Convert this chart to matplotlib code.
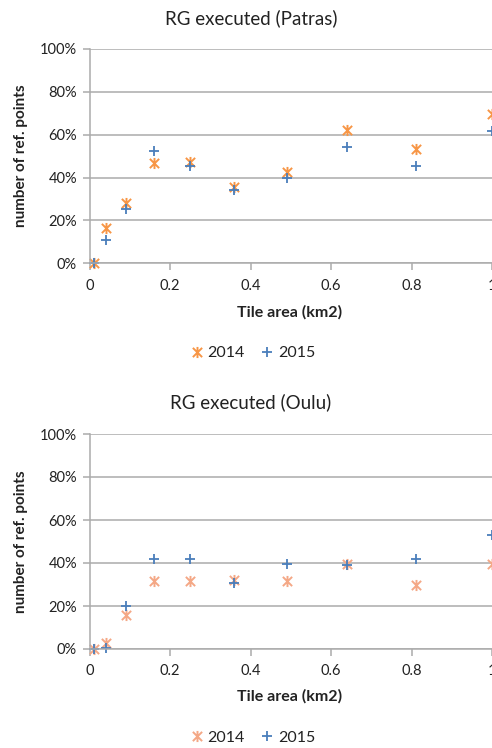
import matplotlib.pyplot as plt
import numpy as np
from matplotlib.path import Path
from matplotlib.ticker import PercentFormatter

plt.rcParams['font.family'] = ['Lato', 'DejaVu Sans']

# tile areas (km2)
area = [0.01, 0.04, 0.09, 0.16, 0.25, 0.36, 0.49, 0.64, 0.81, 1.0]

patras_2014 = [0, 16.3, 28, 46.7, 47.1, 35.6, 42.8, 62, 53.2, 69.7]
patras_2015 = [0, 10.9, 25.5, 52.4, 45.4, 34.4, 40, 54.4, 45.4, 61.9]

oulu_2014 = [0, 2.6, 16, 31.8, 31.8, 32.2, 31.8, 39.5, 29.9, 39.4]
oulu_2015 = [0, 0.3, 19.8, 41.7, 41.7, 30.7, 39.4, 39.2, 41.7, 53]

titles = ['RG executed (Patras)', 'RG executed (Oulu)']
years = ['2014', '2015']

# excel-like star marker: an x with a vertical bar
star = Path([(-1, -1), (1, 1), (-1, 1), (1, -1), (0, -1.2), (0, 1.2)],
            [Path.MOVETO, Path.LINETO, Path.MOVETO, Path.LINETO, Path.MOVETO, Path.LINETO])

blue = '#4A7EBB'
orange_top = '#F79646'
orange_bot = '#F4A886'
grid_c = '#ABABAB'

W, H = 492, 748
fig = plt.figure(figsize=(W / 100, H / 100), dpi=100)

def fy(px):
    return 1 - px / H

panels = [
    dict(top=49, bot=263.3, title_y=18, xlab_y=312, leg_y=353,
         s14=patras_2014, s15=patras_2015, c14=orange_top),
    dict(top=434, bot=649, title_y=402, xlab_y=696, leg_y=738,
         s14=oulu_2014, s15=oulu_2015, c14=orange_bot),
]

for p, title in zip(panels, titles):
    left = 89.5 / W
    ax = fig.add_axes([left, fy(p['bot']), 1 - left, fy(p['top']) - fy(p['bot'])])
    h14, = ax.plot(area, p['s14'], linestyle='none', marker=star, markersize=8,
                   markeredgewidth=1.4, color=p['c14'], label=years[0], clip_on=False)
    h15, = ax.plot(area, p['s15'], linestyle='none', marker='+', markersize=7.5,
                   markeredgewidth=1.3, color=blue, label=years[1], clip_on=False)
    ax.set_xlim(0, 1)
    ax.set_ylim(0, 100)
    ax.set_xticks(np.arange(0, 1.01, 0.2))
    ax.set_xticklabels(['0', '0.2', '0.4', '0.6', '0.8', '1'])
    ax.set_yticks(range(0, 101, 20))
    ax.yaxis.set_major_formatter(PercentFormatter(decimals=0))
    ax.grid(axis='y', color=grid_c, linewidth=1.1)
    ax.set_axisbelow(True)
    for side in ['top', 'right']:
        ax.spines[side].set_visible(False)
    for side in ['left', 'bottom']:
        ax.spines[side].set_color(grid_c)
        ax.spines[side].set_linewidth(1.1)
    ax.tick_params(axis='both', colors=grid_c, length=5, width=1.1, labelsize=10.5,
                   labelcolor='#222222')
    ax.tick_params(axis='x', pad=6)
    ax.tick_params(axis='y', pad=4)

    fig.text(251 / W, fy(p['title_y']), title, ha='center', va='center',
             fontsize=13.5, color='#222222')
    fig.text(290 / W, fy(p['xlab_y']), 'Tile area (km2)', ha='center', va='center',
             fontsize=11.5, fontweight='bold', color='#222222')
    fig.text(21 / W, fy((p['top'] + p['bot']) / 2), 'number of ref. points',
             ha='center', va='center', rotation=90, fontsize=11,
             fontweight='bold', color='#222222')
    fig.legend(handles=[h14, h15], loc='center', bbox_to_anchor=(253 / W, fy(p['leg_y'])),
               ncol=2, frameon=False, fontsize=11.5, handlelength=0.8, handletextpad=0.3,
               columnspacing=1.0, labelcolor='#222222')

fig.savefig('out.png', dpi=100)
